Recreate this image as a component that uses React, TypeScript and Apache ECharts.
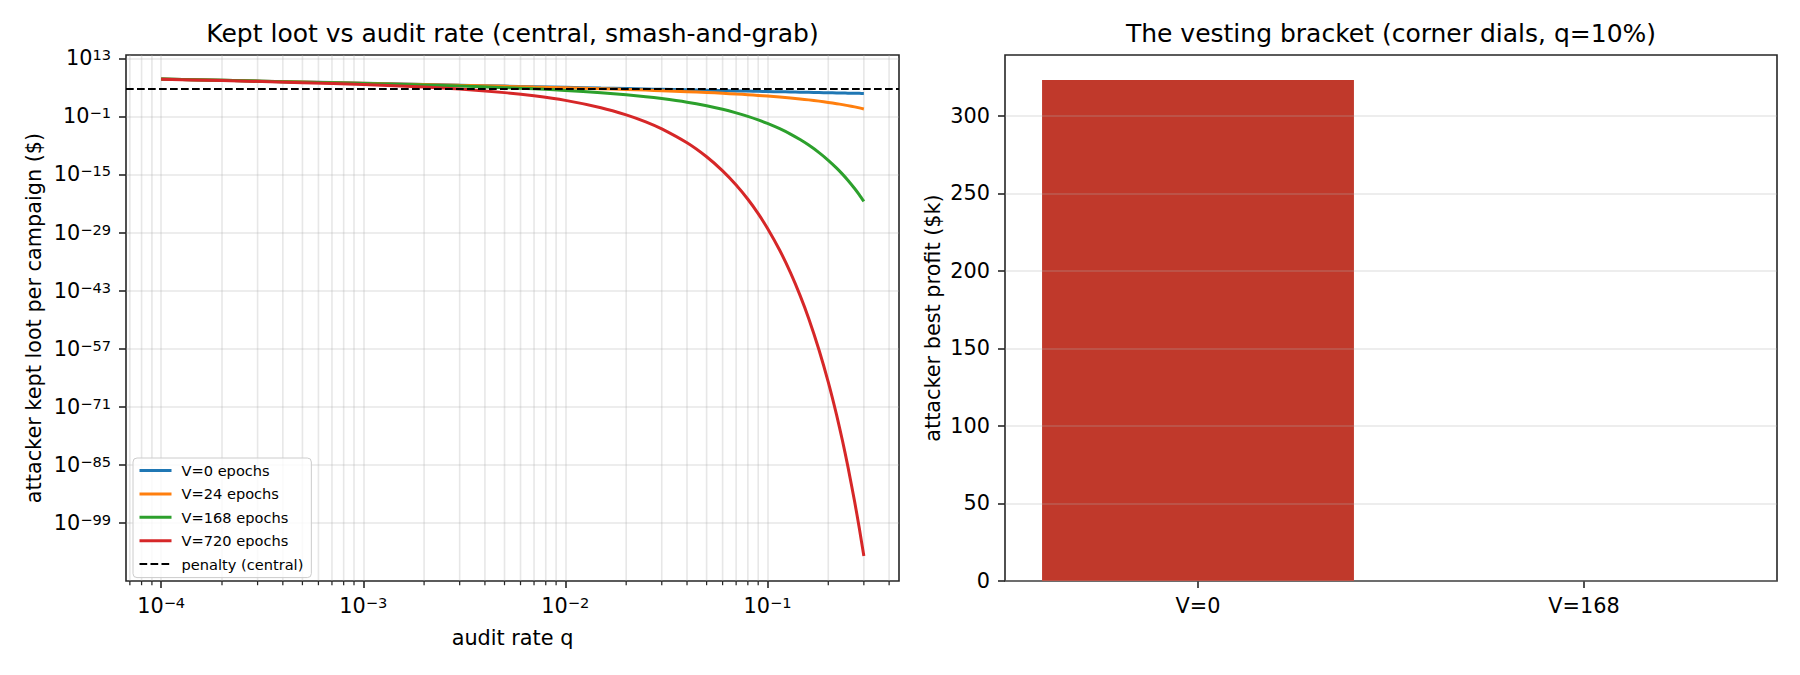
import React, { useEffect, useRef } from 'react';
import * as echarts from 'echarts';

// audit rate q (x of the left panel)
const auditRates = [1e-4, 2e-4, 5e-4, 1e-3, 2e-3, 3e-3, 5e-3, 7e-3, 1e-2, 1.5e-2, 2e-2, 2.5e-2, 3e-2, 4e-2, 5e-2, 6e-2, 7e-2, 8e-2, 9e-2, 0.1, 0.115, 0.13, 0.145, 0.16, 0.18, 0.2, 0.22, 0.235, 0.25, 0.27, 0.285, 0.3];

// kept loot per campaign, as log10($)
const keptV0 = [8.0, 7.7, 7.3, 7.0, 6.7, 6.52, 6.3, 6.15, 6.0, 5.82, 5.7, 5.6, 5.52, 5.4, 5.3, 5.22, 5.15, 5.1, 5.05, 5.0, 4.94, 4.89, 4.84, 4.8, 4.75, 4.7, 4.66, 4.63, 4.6, 4.57, 4.55, 4.52];
const keptV24 = [8.0, 7.7, 7.29, 6.99, 6.68, 6.49, 6.25, 6.08, 5.9, 5.67, 5.49, 5.34, 5.2, 4.97, 4.77, 4.58, 4.39, 4.23, 4.06, 3.9, 3.67, 3.44, 3.21, 2.98, 2.68, 2.37, 2.07, 1.84, 1.6, 1.29, 1.05, 0.8];
const keptV168 = [7.99, 7.69, 7.26, 6.93, 6.55, 6.3, 5.93, 5.64, 5.27, 4.72, 4.23, 3.76, 3.3, 2.42, 1.56, 0.71, -0.15, -0.99, -1.84, -2.69, -3.97, -5.27, -6.59, -7.92, -9.73, -11.58, -13.47, -14.92, -16.39, -18.39, -19.93, -21.5];
const keptV720 = [7.97, 7.64, 7.14, 6.69, 6.07, 5.58, 4.73, 3.95, 2.86, 1.1, -0.62, -2.31, -4.01, -7.37, -10.74, -14.13, -17.54, -20.98, -24.44, -27.95, -33.26, -38.66, -44.15, -49.72, -57.31, -65.08, -73.03, -79.14, -85.36, -93.84, -100.35, -107.0];
const penaltyLog10 = 5.76;

const seriesNames = ['V=0 epochs', 'V=24 epochs', 'V=168 epochs', 'V=720 epochs'];
const seriesColors = ['#1f77b4', '#ff7f0e', '#2ca02c', '#d62728'];

const yTickExps = [13, -1, -15, -29, -43, -57, -71, -85, -99];
const xTickExps = [-4, -3, -2, -1];
const minorQ = [7e-5, 8e-5, 9e-5, 2e-4, 3e-4, 4e-4, 5e-4, 6e-4, 7e-4, 8e-4, 9e-4, 2e-3, 3e-3, 4e-3, 5e-3, 6e-3, 7e-3, 8e-3, 9e-3, 2e-2, 3e-2, 4e-2, 5e-2, 6e-2, 7e-2, 8e-2, 9e-2, 0.2, 0.3, 0.4];

// right panel
const vestingCats = ['V=0', 'V=168'];
const bestProfitK = [323, 0];
const profitTicks = [0, 50, 100, 150, 200, 250, 300];

const FONT = 'DejaVu Sans';
const INK = '#262626';
const GRID = 'rgba(176,176,176,0.3)';
const X_MIN = -4.174, X_MAX = -0.349;
const Y_MIN = -113, Y_MAX = 13.8;
const DASH = [7.7, 3.3];

const sup = (e: number) => `{b|10}{s|${e < 0 ? '\u2212' : ''}${Math.abs(e)}}`;
const supRich = {
    b: { fontSize: 20.8, fontFamily: FONT, color: '#000', lineHeight: 22 },
    s: { fontSize: 14.6, fontFamily: FONT, color: '#000', lineHeight: 12, verticalAlign: 'top' },
};

const App: React.FC = () => {
    const chartRef: any = useRef();

    useEffect(() => {
        const chart = echarts.init(chartRef.current, null, { renderer: 'svg' });

        const lines: any[] = [keptV0, keptV24, keptV168, keptV720].map((vals, k) => ({
            name: seriesNames[k],
            type: 'line',
            xAxisIndex: 0,
            yAxisIndex: 0,
            symbol: 'none',
            smooth: 0.2,
            z: 3,
            lineStyle: { color: seriesColors[k], width: 3 },
            itemStyle: { color: seriesColors[k] },
            data: auditRates.map((q, i) => [Math.log10(q), vals[i]]),
        }));

        let option = {
            animation: false,
            textStyle: { fontFamily: FONT },
            title: [
                {
                    text: 'Kept loot vs audit rate (central, smash-and-grab)',
                    left: 512.5, top: 21, textAlign: 'center', padding: 0,
                    textStyle: { fontSize: 25, fontWeight: 'normal', fontFamily: FONT, color: '#000' },
                },
                {
                    text: 'The vesting bracket (corner dials, q=10%)',
                    left: 1391, top: 21, textAlign: 'center', padding: 0,
                    textStyle: { fontSize: 25, fontWeight: 'normal', fontFamily: FONT, color: '#000' },
                },
            ],
            legend: {
                data: [
                    ...seriesNames.map((n, k) => ({ name: n, lineStyle: { width: 3, color: seriesColors[k] } })),
                    { name: 'penalty (central)', lineStyle: { width: 2, color: '#000', type: DASH } },
                ],
                orient: 'vertical',
                left: 133, top: 458,
                itemWidth: 32, itemHeight: 14, itemGap: 8.4,
                padding: [5, 8, 6, 5],
                borderColor: '#cccccc', borderWidth: 1, borderRadius: 4,
                backgroundColor: 'rgba(255,255,255,0.8)',
                itemStyle: { opacity: 0 },
                textStyle: { fontSize: 14.6, fontFamily: FONT, color: '#000', padding: [0, 0, 0, 5] },
            },
            grid: [
                { left: 126, top: 55, width: 773, height: 526, show: true, borderColor: INK, borderWidth: 1.6, backgroundColor: 'transparent' },
                { left: 1005, top: 55, width: 772, height: 526, show: true, borderColor: INK, borderWidth: 1.6, backgroundColor: 'transparent' },
            ],
            xAxis: [
                {
                    type: 'value', gridIndex: 0, min: X_MIN, max: X_MAX, minInterval: 1, maxInterval: 1,
                    name: 'audit rate q', nameLocation: 'middle', nameGap: 46,
                    nameTextStyle: { fontSize: 20.8, fontFamily: FONT, color: '#000' },
                    axisLine: { show: false, onZero: false },
                    axisTick: { show: true, length: 7, lineStyle: { color: INK, width: 1.6 }, customValues: xTickExps },
                    axisLabel: {
                        margin: 14, customValues: xTickExps, rich: supRich,
                        formatter: (v: number) => (Math.abs(v - Math.round(v)) < 1e-6 ? sup(Math.round(v)) : ''),
                    },
                    splitLine: { show: true, lineStyle: { color: GRID, width: 1.6 } },
                },
                {
                    type: 'category', gridIndex: 1, data: vestingCats,
                    axisLine: { show: false, onZero: false },
                    axisTick: { show: true, alignWithLabel: true, length: 7, lineStyle: { color: INK, width: 1.6 } },
                    axisLabel: { margin: 14, fontSize: 20.8, fontFamily: FONT, color: '#000' },
                    splitLine: { show: false },
                },
            ],
            yAxis: [
                {
                    type: 'value', gridIndex: 0, min: Y_MIN, max: Y_MAX, interval: 14,
                    name: 'attacker kept loot per campaign ($)', nameLocation: 'middle', nameGap: 82, nameRotate: 90,
                    nameTextStyle: { fontSize: 20.8, fontFamily: FONT, color: '#000' },
                    axisLine: { show: false, onZero: false },
                    axisTick: { show: true, length: 7, lineStyle: { color: INK, width: 1.6 }, customValues: yTickExps },
                    axisLabel: {
                        margin: 15, customValues: yTickExps, rich: supRich,
                        formatter: (v: number) => (yTickExps.includes(Math.round(v)) && Math.abs(v - Math.round(v)) < 1e-6 ? sup(Math.round(v)) : ''),
                    },
                    splitLine: { show: true, lineStyle: { color: GRID, width: 1.6 } },
                },
                {
                    type: 'value', gridIndex: 1, min: 0, max: 339.15, interval: 50, z: 3,
                    name: 'attacker best profit ($k)', nameLocation: 'middle', nameGap: 62, nameRotate: 90,
                    nameTextStyle: { fontSize: 20.8, fontFamily: FONT, color: '#000' },
                    axisLine: { show: false, onZero: false },
                    axisTick: { show: true, length: 7, lineStyle: { color: INK, width: 1.6 }, customValues: profitTicks },
                    axisLabel: {
                        margin: 15, fontSize: 20.8, fontFamily: FONT, color: '#000', customValues: profitTicks,
                        formatter: (v: number) => (profitTicks.includes(v) ? String(v) : ''),
                    },
                    splitLine: { show: true, lineStyle: { color: GRID, width: 1.6 } },
                },
            ],
            series: [
                {
                    // log minor grid + minor ticks on the q axis
                    type: 'custom',
                    xAxisIndex: 0, yAxisIndex: 0,
                    silent: true, clip: false, z: 1,
                    encode: { x: 0, y: 1 },
                    data: minorQ.map((q) => [Math.log10(q), Y_MIN]),
                    renderItem: (params: any, api: any) => {
                        const x = api.value(0);
                        const top = api.coord([x, Y_MAX]);
                        const bot = api.coord([x, Y_MIN]);
                        return {
                            type: 'group',
                            children: [
                                { type: 'line', shape: { x1: top[0], y1: top[1], x2: bot[0], y2: bot[1] }, style: { stroke: GRID, lineWidth: 1.6 } },
                                { type: 'line', shape: { x1: bot[0], y1: bot[1], x2: bot[0], y2: bot[1] + 4.2 }, style: { stroke: INK, lineWidth: 1.25 } },
                            ],
                        };
                    },
                },
                ...lines,
                {
                    name: 'penalty (central)',
                    type: 'line',
                    xAxisIndex: 0, yAxisIndex: 0,
                    symbol: 'none',
                    z: 3,
                    data: [],
                    lineStyle: { color: '#000', width: 2, type: DASH },
                    itemStyle: { color: '#000' },
                    markLine: {
                        silent: true, symbol: 'none', label: { show: false },
                        lineStyle: { color: '#000', width: 2, type: DASH },
                        data: [{ yAxis: penaltyLog10 }],
                    },
                },
                {
                    type: 'bar',
                    xAxisIndex: 1, yAxisIndex: 1,
                    barWidth: '80.8%',
                    itemStyle: { color: '#c0392b' },
                    data: bestProfitK,
                },
            ],
        };
        chart.setOption(option as any);
        return () => {
            chart.dispose();
        };
    }, []);

    return <div ref={chartRef} style={{ position: 'fixed', left: 0, top: 0, width: 1800, height: 675, background: '#fff' }}></div>;
};

export default App;
